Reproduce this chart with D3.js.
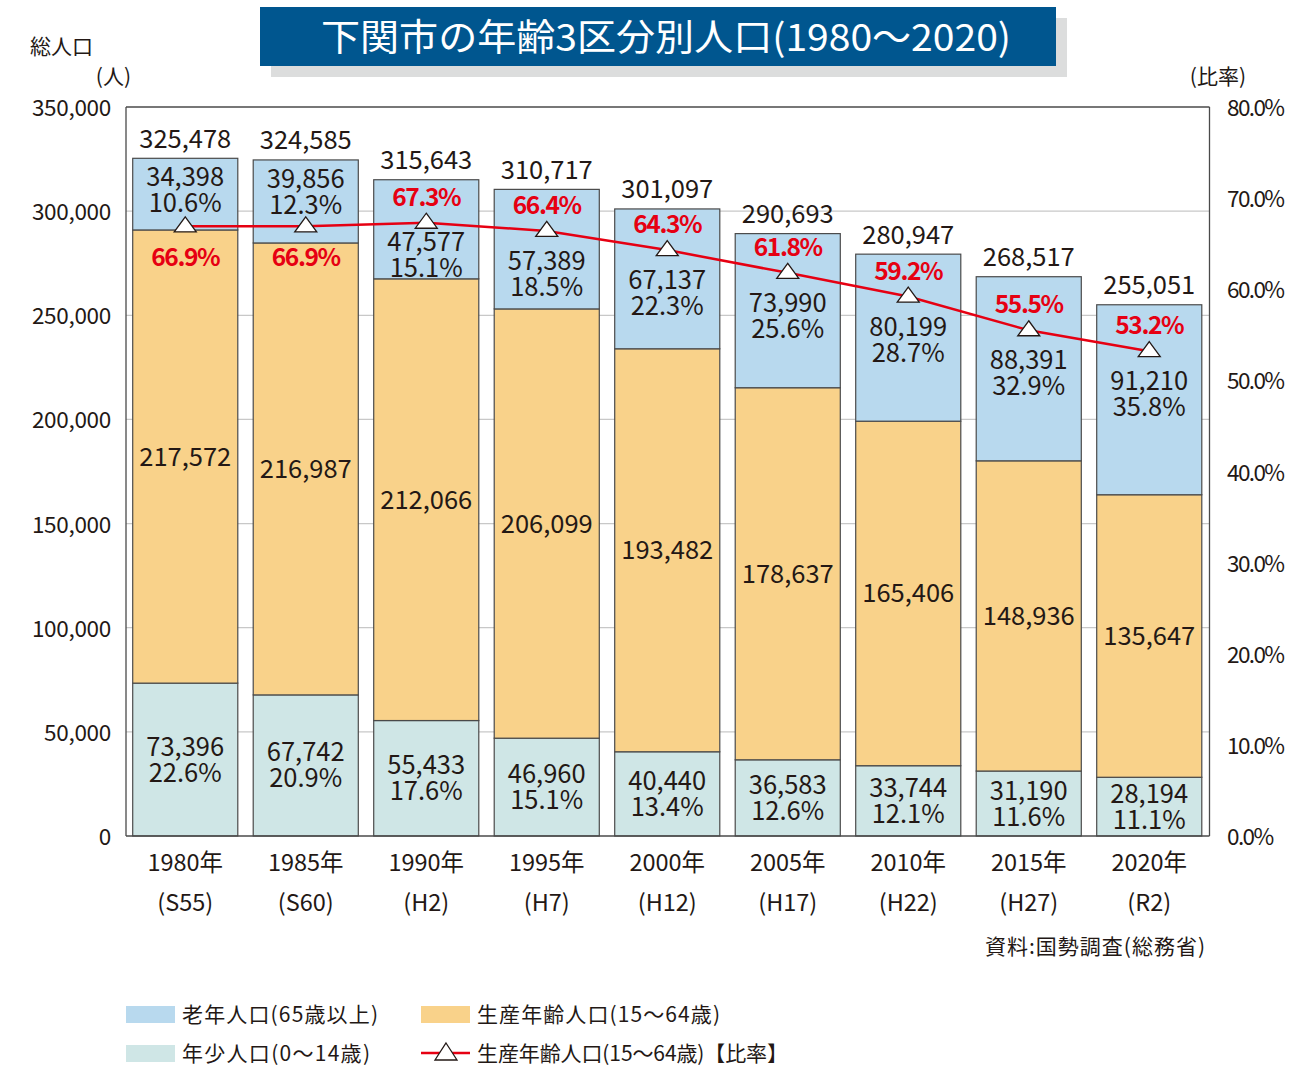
<!DOCTYPE html>
<html><head><meta charset="utf-8">
<script src="https://cdn.jsdelivr.net/npm/d3@7"></script>
<style>
body{margin:0;background:#fff}
text{font-family:"Noto Sans CJK JP","Noto Sans",sans-serif;fill:#231815}
</style>
</head><body>
<svg id="c" width="1313" height="1067"></svg>
<script>
const years = ["1980年","1985年","1990年","1995年","2000年","2005年","2010年","2015年","2020年"];
const eras = ["(S55)","(S60)","(H2)","(H7)","(H12)","(H17)","(H22)","(H27)","(R2)"];
const totals = [325478,324585,315643,310717,301097,290693,280947,268517,255051];
const elderly = [34398,39856,47577,57389,67137,73990,80199,88391,91210];
const elderlyPct = [10.6,12.3,15.1,18.5,22.3,25.6,28.7,32.9,35.8];
const productive = [217572,216987,212066,206099,193482,178637,165406,148936,135647];
const productivePct = [66.9,66.9,67.3,66.4,64.3,61.8,59.2,55.5,53.2];
const young = [73396,67742,55433,46960,40440,36583,33744,31190,28194];
const youngPct = [22.6,20.9,17.6,15.1,13.4,12.6,12.1,11.6,11.1];
const leftTicks = [0,50000,100000,150000,200000,250000,300000,350000];
const rightTicks = [0,10,20,30,40,50,60,70,80];

const svg = d3.select("#c");
svg.append("rect").attr("width",1313).attr("height",1067).attr("fill","#fff");

const W0=126, W1=1209.5, Y0=836, Y1=107;
const x = d3.scaleBand().domain(years).range([125,1209.5]).paddingInner(0.128).paddingOuter(0.064);
const y = d3.scaleLinear().domain([0,350000]).range([Y0,Y1]);
const yR = d3.scaleLinear().domain([0,80]).range([Y0,Y1]);
const bw = x.bandwidth();
const fmt = d3.format(",");
const cx = i => x(years[i]) + bw/2;

// title
svg.append("rect").attr("x",271).attr("y",18).attr("width",796).attr("height",59).attr("fill","#dcdddd");
svg.append("rect").attr("x",260).attr("y",7).attr("width",796).attr("height",59).attr("fill","#00568f");
svg.append("text").attr("x",666).attr("y",51).attr("text-anchor","middle")
  .attr("font-size",37).style("fill","#fff")
  .attr("textLength",690).attr("lengthAdjust","spacingAndGlyphs")
  .text("下関市の年齢3区分別人口(1980～2020)");

// axis titles
svg.append("text").attr("x",30).attr("y",54).attr("font-size",21).text("総人口");
svg.append("text").attr("x",131).attr("y",84).attr("font-size",21).attr("text-anchor","end").text("(人)");
svg.append("text").attr("x",1246).attr("y",84).attr("font-size",21).attr("text-anchor","end").text("(比率)");

// gridlines
svg.append("g").selectAll("line").data(leftTicks.filter(t=>t>0 && t<350000)).join("line")
  .attr("x1",W0).attr("x2",W1).attr("y1",d=>y(d)).attr("y2",d=>y(d))
  .attr("stroke","#c8c8c8").attr("stroke-width",1.2);

// left tick labels
svg.append("g").selectAll("text").data(leftTicks).join("text")
  .attr("x",111).attr("y",d=>y(d)+9).attr("text-anchor","end").attr("font-size",22.5)
  .attr("letter-spacing",-0.3)
  .text(d=>fmt(d));
// right tick labels
svg.append("g").selectAll("text").data(rightTicks).join("text")
  .attr("x",1227).attr("y",d=>yR(d)+9).attr("font-size",22.5).attr("letter-spacing",-1.6)
  .text(d=>d.toFixed(1)+"%");

// stacked bars
const rows = years.map((yr,i)=>({yr,young:young[i],productive:productive[i],elderly:elderly[i]}));
const stack = d3.stack().keys(["young","productive","elderly"])(rows);
const colors = {young:"#cfe6e6",productive:"#f9d28a",elderly:"#b8d9ee"};
svg.append("g").selectAll("g").data(stack).join("g").attr("fill",s=>colors[s.key])
  .selectAll("rect").data(s=>s).join("rect")
  .attr("x",d=>x(d.data.yr)).attr("width",bw)
  .attr("y",d=>y(d[1])).attr("height",d=>y(d[0])-y(d[1]))
  .attr("stroke","#4a4a4a").attr("stroke-width",1.2);

// frame
const fr = svg.append("g").attr("stroke","#4a4a4a").attr("stroke-width",1.3);
fr.append("line").attr("x1",W0).attr("x2",W1).attr("y1",Y1).attr("y2",Y1);
fr.append("line").attr("x1",W1).attr("x2",W1).attr("y1",Y1).attr("y2",Y0);
fr.append("line").attr("x1",W0).attr("x2",W0).attr("y1",Y1).attr("y2",Y0);
fr.append("line").attr("x1",W0).attr("x2",W1).attr("y1",Y0).attr("y2",Y0);

// x labels
const xl = svg.append("g");
years.forEach((yr,i)=>{
  xl.append("text").attr("x",cx(i)).attr("y",871).attr("text-anchor","middle").attr("font-size",23.5).text(yr);
  xl.append("text").attr("x",cx(i)).attr("y",911).attr("text-anchor","middle").attr("font-size",23.5).text(eras[i]);
});

// line
const red = "#e60012";
svg.append("path").datum(productivePct)
  .attr("d",d3.line().x((d,i)=>cx(i)).y(d=>yR(d)))
  .attr("fill","none").attr("stroke",red).attr("stroke-width",2.5);
svg.append("g").selectAll("path").data(productivePct).join("path")
  .attr("d",(d,i)=>{const px=cx(i),py=yR(d);return `M${px},${py-9.5}L${px+11},${py+5.5}L${px-11},${py+5.5}Z`;})
  .attr("fill","#fff").attr("stroke","#231815").attr("stroke-width",1.3);

// value labels
const vl = svg.append("g").attr("text-anchor","middle").attr("font-size",25.5);
function twoLine(px, base, a, b){
  const t = vl.append("text").attr("x",px).attr("y",base);
  t.append("tspan").attr("x",px).attr("y",base).text(a);
  t.append("tspan").attr("x",px).attr("y",base+26).text(b);
}
function redLabel(px, base, v){
  vl.append("text").attr("x",px).attr("y",base).attr("font-weight","bold")
    .attr("font-size",24.5).attr("letter-spacing",-1.4).style("fill",red).text(v.toFixed(1)+"%");
}
years.forEach((yr,i)=>{
  const px = cx(i);
  const top = y(young[i]+productive[i]+elderly[i]);
  const prodTop = y(young[i]+productive[i]);
  const youngTop = y(young[i]);
  const py = yR(productivePct[i]);
  vl.append("text").attr("x",px).attr("y",top-10.5).text(fmt(totals[i]));
  const ym = (youngTop+Y0)/2;
  twoLine(px, ym-4, fmt(young[i]), youngPct[i].toFixed(1)+"%");
  vl.append("text").attr("x",px).attr("y",(prodTop+youngTop)/2+9).text(fmt(productive[i]));
  if (i<2){
    twoLine(px, top+28, fmt(elderly[i]), elderlyPct[i].toFixed(1)+"%");
    redLabel(px, py+40, productivePct[i]);
  } else {
    redLabel(px, py-17, productivePct[i]);
    const c = Math.min(py+30, prodTop-37);
    twoLine(px, c+9, fmt(elderly[i]), elderlyPct[i].toFixed(1)+"%");
  }
});

// source
svg.append("text").attr("x",985).attr("y",954).attr("font-size",21)
  .attr("textLength",220).attr("lengthAdjust","spacing").text("資料:国勢調査(総務省)");

// legend
const lg = svg.append("g").attr("font-size",21);
function legText(xp, yp, w, s){
  lg.append("text").attr("x",xp).attr("y",yp).attr("textLength",w).attr("lengthAdjust","spacing").text(s);
}
lg.append("rect").attr("x",126).attr("y",1006).attr("width",49).attr("height",17).attr("fill",colors.elderly);
legText(182,1022,196,"老年人口(65歳以上)");
lg.append("rect").attr("x",421).attr("y",1006).attr("width",49).attr("height",17).attr("fill",colors.productive);
legText(477,1022,243,"生産年齢人口(15～64歳)");
lg.append("rect").attr("x",126).attr("y",1045).attr("width",49).attr("height",17).attr("fill",colors.young);
legText(182,1061,188,"年少人口(0～14歳)");
lg.append("line").attr("x1",421).attr("x2",470).attr("y1",1053).attr("y2",1053).attr("stroke",red).attr("stroke-width",2.5);
lg.append("path").attr("d","M446,1043L457,1060L435,1060Z").attr("fill","#fff").attr("stroke","#231815").attr("stroke-width",1.3);
legText(477,1061,311,"生産年齢人口(15～64歳)【比率】");
</script>
</body></html>
